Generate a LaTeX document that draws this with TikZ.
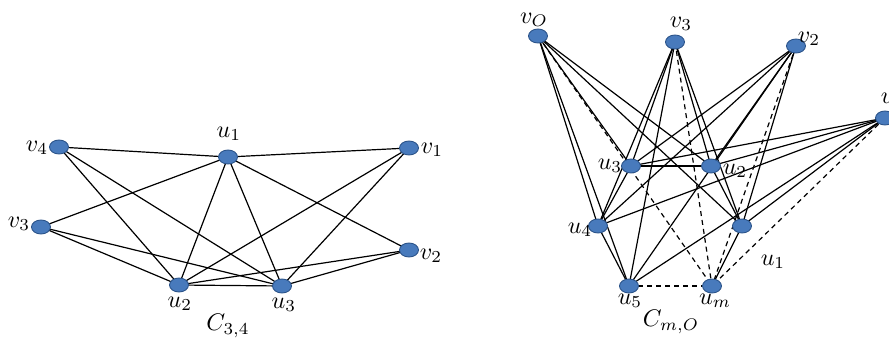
\documentclass[tikz,border=0pt]{standalone}
\usetikzlibrary{shapes.geometric,backgrounds}
\definecolor{vfill}{RGB}{72,122,188}
\definecolor{vline}{RGB}{44,84,138}
\newcommand{\lab}[1]{\scalebox{2.4}{$#1$}}
\begin{document}
\begin{tikzpicture}[x=1pt,y=-1pt,
  vtx/.style={ellipse,fill=vfill,draw=vline,line width=0.9pt,minimum width=19pt,minimum height=14pt,inner sep=0pt},
  lbl/.style={inner sep=0pt},
  edge/.style={line width=1.2pt,black},
  dedge/.style={edge,dash pattern=on 5pt off 4pt}]
\useasboundingbox (0,0) rectangle (889,342);

% ---- left graph C_{3,4}
\node[vtx] (Lv4) at (59,147) {};
\node[vtx] (Lu1) at (228,157) {};
\node[vtx] (Lv1) at (409,148) {};
\node[vtx] (Lv3) at (41,227) {};
\node[vtx] (Lv2) at (409,250) {};
\node[vtx] (Lu2) at (179,285) {};
\node[vtx] (Lu3) at (282,286) {};

\node[lbl] (tLv4) at (37,148) {\lab{v_4}};
\node[lbl] (tLu1) at (229,134) {\lab{u_1}};
\node[lbl] (tLv1) at (432,150) {\lab{v_1}};
\node[lbl] (tLv3) at (19,224) {\lab{v_3}};
\node[lbl] (tLv2) at (431,256) {\lab{v_2}};
\node[lbl] (tLu2) at (180,304) {\lab{u_2}};
\node[lbl] (tLu3) at (284,305) {\lab{u_3}};
\node[lbl] (tC1) at (228,326) {\lab{C_{3,4}}};

% ---- right graph C_{m,O}
\node[vtx] (v0) at (538,36) {};
\node[vtx] (v3) at (675,42) {};
\node[vtx] (v2) at (796,46) {};
\node[vtx] (v1) at (885,118) {};
\node[vtx] (u3) at (631,166) {};
\node[vtx] (u2) at (711,166) {};
\node[vtx] (u4) at (598,226) {};
\node[vtx] (u1) at (742,226) {};
\node[vtx] (u5) at (629,286) {};
\node[vtx] (um) at (712,286) {};

\node[lbl] (tv0) at (534,20) {\lab{v_O}};
\node[lbl] (tv3) at (681,24) {\lab{v_3}};
\node[lbl] (tv2) at (809,39) {\lab{v_2}};
\node[lbl] (tv1) at (892,100) {\lab{v_1}};
\node[lbl] (tu3) at (610,166) {\lab{u_3}};
\node[lbl] (tu2) at (735,171) {\lab{u_2}};
\node[lbl] (tu4) at (580,230) {\lab{u_4}};
\node[lbl] (tu1) at (773,262) {\lab{u_1}};
\node[lbl] (tu5) at (630,301) {\lab{u_5}};
\node[lbl] (tum) at (715,301) {\lab{u_m}};
\node[lbl] (tC2) at (671,322) {\lab{C_{m,O}}};

\begin{scope}[on background layer]
  % left: triangle u1 u2 u3 joined to v1..v4
  \foreach \a/\b in {Lu1/Lu2,Lu1/Lu3,Lu2/Lu3}
    \draw[edge] (\a.center) -- (\b.center);
  \foreach \v in {Lv1,Lv2,Lv3,Lv4}
    \foreach \u in {Lu1,Lu2,Lu3}
      \draw[edge] (\v.center) -- (\u.center);
  % right: cycle u1..u5 ... um joined to v0..v3
  \foreach \a/\b in {u1/u2,u2/u3,u3/u4,u4/u5,um/u1}
    \draw[edge] (\a.center) -- (\b.center);
  \draw[dedge] (u5.center) -- (um.center);
  \foreach \v in {v0,v1,v2,v3}{
    \foreach \u in {u1,u2,u3,u4,u5}
      \draw[edge] (\v.center) -- (\u.center);
    \draw[dedge] (\v.center) -- (um.center);
  }
\end{scope}
\end{tikzpicture}
\end{document}
